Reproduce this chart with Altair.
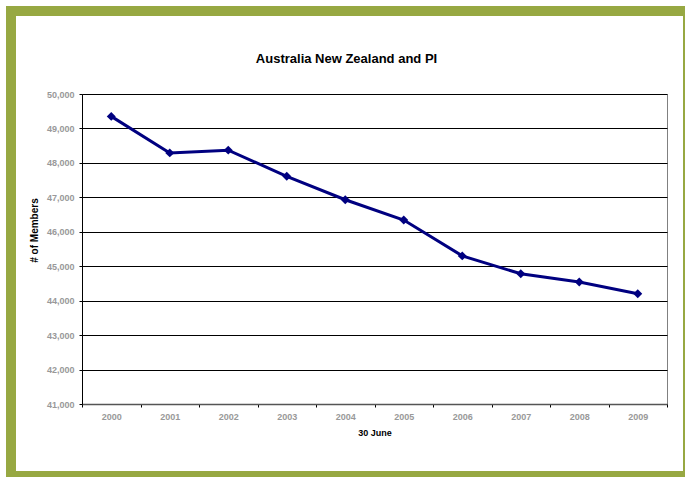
import altair as alt
import pandas as pd

years = ["2000", "2001", "2002", "2003", "2004", "2005", "2006", "2007", "2008", "2009"]
members = [49350, 48290, 48370, 47610, 46930, 46340, 45300, 44780, 44540, 44200]
y_ticks = [41000, 42000, 43000, 44000, 45000, 46000, 47000, 48000, 49000, 50000]

df = pd.DataFrame({"year": years, "members": members})

GREEN = "#97A842"
NAVY = "#000080"
LABEL_GREY = "#999999"
FONT = "Liberation Sans"

x_enc = alt.X(
    "year:O",
    scale=alt.Scale(type="band", paddingInner=0, paddingOuter=0),
    axis=alt.Axis(
        title="30 June", labelAngle=0, tickBand="extent", grid=False,
        labelColor=LABEL_GREY, labelFont=FONT, labelFontSize=9, labelFontWeight="bold",
        labelPadding=5, tickSize=3, tickColor="#000000",
        domainColor="#555555", domainWidth=1.5,
        titleFont=FONT, titleFontSize=9, titleFontWeight="bold", titleColor="#000000",
        titlePadding=7,
    ),
)
y_enc = alt.Y(
    "members:Q",
    scale=alt.Scale(domain=[41000, 50000], nice=False, zero=False),
    axis=alt.Axis(
        title="# of Members", values=y_ticks, format=",d", labelOverlap=False,
        grid=True, gridColor="#000000", gridWidth=1,
        labelColor=LABEL_GREY, labelFont=FONT, labelFontSize=9, labelFontWeight="bold",
        labelPadding=5, tickSize=3, tickColor="#000000",
        domainColor="#000000", domainWidth=1,
        titleFont=FONT, titleFontSize=10, titleFontWeight="bold", titleColor="#000000",
        titleAngle=270, titleAlign="center", titleBaseline="alphabetic",
        titleX=-45, titleY=136,
    ),
)

line = alt.Chart(df).mark_line(color=NAVY, strokeWidth=3).encode(x=x_enc, y=y_enc)
pts = alt.Chart(df).mark_point(shape="diamond", filled=True, color=NAVY, size=80, opacity=1).encode(
    x=x_enc, y=y_enc
)

frame = alt.Chart(pd.DataFrame({"f": [0]})).mark_rect(
    fill=None, stroke=GREEN, strokeWidth=10
).encode(
    x=alt.value(-71), x2=alt.value(606), y=alt.value(-83), y2=alt.value(382)
)

chart = alt.layer(line, pts, frame).properties(
    width=585,
    height=310,
    padding={"left": 82, "top": 94, "right": 18, "bottom": 73},
    autosize=alt.AutoSizeParams(type="none"),
    background="#ffffff",
    title=alt.TitleParams(
        "Australia New Zealand and PI", font=FONT, fontSize=13, fontWeight="bold",
        color="#000000", anchor="middle", dx=-28, offset=-70, baseline="alphabetic",
    ),
).configure_view(stroke="#808080", strokeWidth=1)

chart.save("out.html", embed_options={"renderer": "svg", "actions": False})
